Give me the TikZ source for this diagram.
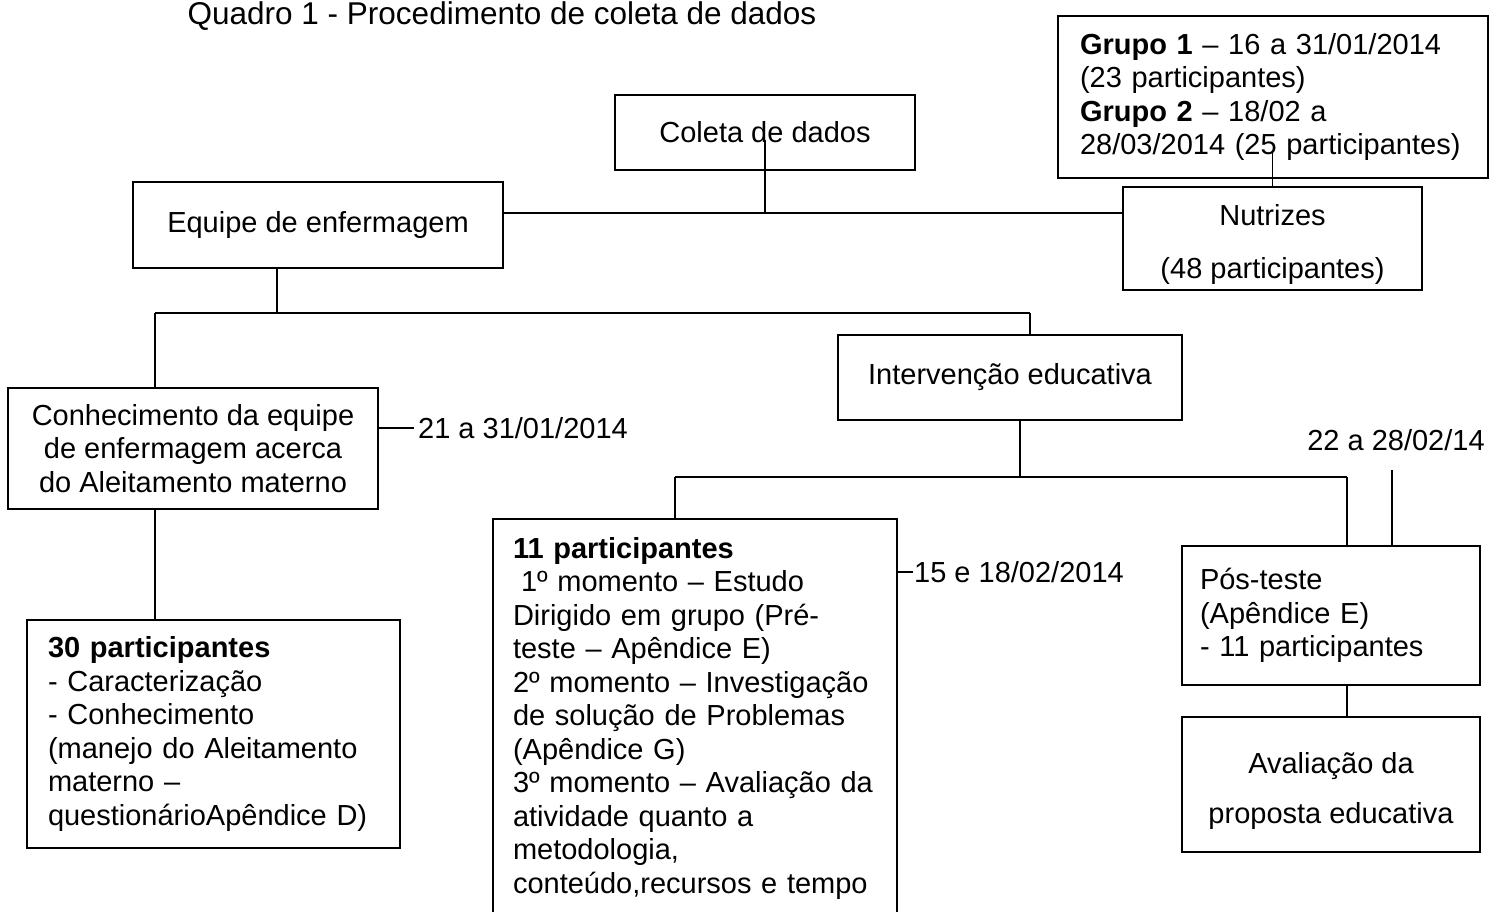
\documentclass[tikz,border=0pt]{standalone}
\usepackage{fontspec}
\setmainfont{Liberation Sans}
\usetikzlibrary{positioning}

\newcommand{\fonteq}{\fontsize{29}{33.5}\selectfont}

\begin{document}
\begin{tikzpicture}[x=1pt, y=-1pt,
  caixa/.style={draw, line width=1.4pt, inner sep=0pt, font=\fonteq, align=center},
  lista/.style={caixa, align=left, inner ysep=0pt},
  data/.style={font=\fonteq, inner sep=1pt},
  liga/.style={line width=1.3pt}]

\clip (0,0) rectangle (1490,911);

\node[font=\fontsize{31.5}{36}\selectfont] (titulo) at (502,16) {Quadro 1 - Procedimento de coleta de dados};

\node[caixa, minimum width=300pt, minimum height=75pt] (coleta) at (765,132.5) {Coleta de dados};
\node[lista, inner xsep=20pt, text width=386pt, minimum width=430pt, minimum height=162pt] (grupos) at (1273,97)
  {\textbf{Grupo 1} – 16 a 31/01/2014\\(23 participantes)\\\textbf{Grupo 2} – 18/02 a\\28/03/2014 (25 participantes)};
\node[caixa, minimum width=299pt, minimum height=103pt] (nutrizes) at (1272.5,238.5) {\rule{0pt}{33pt}Nutrizes\\[19pt](48 participantes)};
\node[caixa, minimum width=370pt, minimum height=86pt] (equipe) at (318,225) {Equipe de enfermagem};

\node[caixa, minimum width=370pt, minimum height=121pt] (conhec) at (193,448.5)
  {Conhecimento da equipe\\de enfermagem acerca\\do Aleitamento materno};
\node[caixa, minimum width=344pt, minimum height=85pt] (interv) at (1010,377.5) {Intervenção educativa};

\node[lista, inner xsep=21pt, text width=331pt, minimum width=373pt, minimum height=228pt] (part30) at (213.5,734)
  {\textbf{30 participantes}\\- Caracterização\\- Conhecimento\\(manejo do Aleitamento\\materno –\\questionárioApêndice D)};
\node[lista, inner xsep=20pt, text width=364pt, minimum width=404pt, minimum height=398pt] (part11) at (695,718)
  {\textbf{11 participantes}\\\hspace*{8pt}1º momento – Estudo\\Dirigido em grupo (Pré-\\teste – Apêndice E)\\2º momento – Investigação\\de solução de Problemas\\(Apêndice G)\\3º momento – Avaliação da\\atividade quanto a\\metodologia,\\conteúdo,recursos e tempo};
\node[lista, inner xsep=18pt, text width=262pt, minimum width=298pt, minimum height=139pt] (posteste) at (1331,615.5)
  {Pós-teste\\(Apêndice E)\\- 11 participantes};
\node[caixa, minimum width=298pt, minimum height=135pt] (avalia) at (1331,784.5) {\rule{0pt}{33.5pt}Avaliação da\\[16pt]proposta educativa};

\node[data, anchor=west] (data1) at (417,428) {21 a 31/01/2014};
\node[data, anchor=west] (data2) at (913,572) {15 e 18/02/2014};
\node[data] (data3) at (1396,440) {22 a 28/02/14};

\coordinate (juncao) at (765,213);  % ligacao coleta
\coordinate (b1) at (155,313);
\coordinate (b2) at (1030,313);
\coordinate (b3) at (277,313);
\coordinate (c0) at (1020,477);
\coordinate (c1) at (675,477);
\coordinate (c2) at (1347,477);
\coordinate (d3) at (1392,470);     % linha da data

\draw[liga] ([yshift=-7.5pt]coleta.center) -- (juncao);
\draw[liga] (equipe.east |- juncao) -- (nutrizes.west |- juncao);
\draw[liga] (nutrizes.north) -- ([yshift=26pt]grupos.south -| nutrizes.north);

\draw[liga] (equipe.south -| b3) -- (b3);
\draw[liga] (b1) -- (b2);
\draw[liga] (b1) -- (conhec.north -| b1);
\draw[liga] (b2) -- (interv.north -| b2);
\draw[liga] (conhec.south -| b1) -- (part30.north -| b1);
\draw[liga] (conhec.east |- data1.west) -- ([xshift=-3pt]data1.west);

\draw[liga] (interv.south -| c0) -- (c0);
\draw[liga] (c1) -- (c2);
\draw[liga] (c1) -- (part11.north -| c1);
\draw[liga] (c2) -- (posteste.north -| c2);
\draw[liga] (d3) -- (posteste.north -| d3);
\draw[liga] (posteste.south -| c2) -- (avalia.north -| c2);
\draw[liga] (part11.east |- data2.west) -- (data2.west);

\end{tikzpicture}
\end{document}
